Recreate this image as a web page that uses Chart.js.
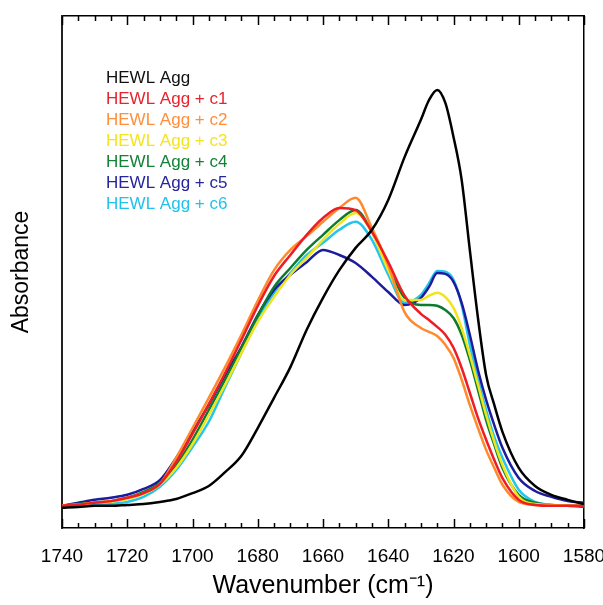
<!DOCTYPE html>
<html>
<head>
<meta charset="utf-8">
<title>HEWL Agg FTIR</title>
<script src="https://cdn.jsdelivr.net/npm/chart.js@4.4.1/dist/chart.umd.min.js"></script>
<style>
  html, body { margin: 0; padding: 0; background: #fff; overflow: hidden; }
</style>
</head>
<body>
<canvas id="ftir" width="603" height="605"></canvas>
<script>
// wavenumber (cm-1) and absorbance (arbitrary units, black peak = 100)
const wavenumber = [1740,1735,1730,1725,1720,1715,1710,1705,1700,1695,1690,1685,1680,1675,1670,1665,1660,1655,1650,1645,1640,1635,1630,1627.5,1625,1622.5,1620,1617.5,1615,1612.5,1610,1607.5,1605,1600,1595,1590,1585,1580];
const hewlAgg = [0.5,0.7,1.0,1.0,1.2,1.4,1.9,2.6,4.0,5.7,9.0,12.9,19.5,26.7,34.0,42.9,50.5,57.1,62.4,66.7,73.8,84.0,92.9,97.6,100,96.9,88.8,78.6,61.9,45.7,32.1,25.0,18.6,10.0,5.7,3.6,2.4,1.4];
const aggC1 = [1.0,1.3,1.7,2.1,2.9,4.0,6.2,11.4,18.1,25.2,32.6,40.5,48.6,55.7,60.7,65.5,69.5,71.9,71.4,66.2,59.0,51.0,46.7,45.2,43.6,41.7,38.6,33.8,27.9,21.9,16.7,11.9,7.6,2.4,1.2,1.0,1.0,1.0];
const aggC2 = [1.0,1.3,1.7,2.1,2.9,4.0,6.2,12.4,19.5,26.7,34.0,41.7,49.8,57.1,61.9,65.2,68.6,71.9,74.3,67.1,58.3,47.1,43.3,42.4,41.4,39.3,36.2,31.0,25.0,19.5,14.3,10.0,6.0,1.9,1.2,1.0,1.0,1.0];
const aggC3 = [1.0,1.3,1.7,2.0,2.6,3.8,6.0,10.0,15.7,22.6,29.8,37.4,44.8,50.7,56.0,60.0,64.3,68.1,70.7,66.0,57.1,50.0,50.0,51.0,51.7,50.7,48.1,43.3,36.9,29.8,22.6,16.2,10.7,3.1,1.4,1.2,1.0,1.0];
const aggC4 = [1.0,1.4,1.8,2.1,2.9,4.3,6.4,10.7,16.7,23.8,31.0,38.6,46.2,53.1,57.6,61.9,65.5,69.0,71.4,66.2,57.6,50.5,48.8,48.8,48.6,47.6,45.7,41.7,35.7,28.6,21.4,15.5,10.0,3.6,1.7,1.2,1.0,0.7];
const aggC5 = [1.0,1.7,2.4,2.9,3.6,5.0,7.1,12.4,18.6,25.0,32.1,38.8,46.4,52.4,56.0,59.0,61.9,60.7,58.8,55.5,51.9,48.8,50.5,53.1,56.4,56.2,54.3,49.3,41.7,33.3,26.2,20.2,14.8,7.6,4.5,3.1,2.1,1.7];
const aggC6 = [1.0,1.2,1.3,1.5,1.9,3.1,5.5,9.5,15.0,21.0,29.3,37.4,45.2,51.7,56.4,60.7,63.6,66.7,68.6,64.3,56.0,49.3,51.2,54.0,56.9,56.7,54.8,48.8,39.3,31.0,23.8,17.4,12.4,4.8,1.9,1.2,1.0,1.0];

const seriesNames = ['HEWL Agg','HEWL Agg + c1','HEWL Agg + c2','HEWL Agg + c3','HEWL Agg + c4','HEWL Agg + c5','HEWL Agg + c6'];
const seriesData = [hewlAgg, aggC1, aggC2, aggC3, aggC4, aggC5, aggC6];
const lineColors = ['#000000','#ee1c25','#ff8a2e','#f2e41c','#0c7c2c','#1c1c9c','#22c6ec'];
const textColors = ['#111111','#e8232b','#ff8f3c','#f3e421','#138237','#25259f','#20c2ea'];
const minorStep = 5;

const FONT = "'Liberation Sans', Arial, sans-serif";

var _datasets = [];
for (let i = 0; i < seriesNames.length; i++) {
  _datasets.push({
    label: seriesNames[i],
    data: wavenumber.map((w, k) => ({x: w, y: seriesData[i][k]})),
    borderColor: lineColors[i],
    backgroundColor: lineColors[i],
    borderWidth: 2.5,
    pointRadius: 0,
    cubicInterpolationMode: 'monotone',
    fill: false,
  });
}

// inward tick marks on top and bottom edges
const innerTicks = {
  id: 'innerTicks',
  afterDraw(chart) {
    const ctx = chart.ctx, xs = chart.scales.x, a = chart.chartArea;
    ctx.save();
    ctx.strokeStyle = '#000';
    ctx.lineWidth = 1.5;
    for (let w = xs.min; w <= xs.max; w += minorStep) {
      const px = Math.round(xs.getPixelForValue(w)) + 0.5;
      const len = (w % 20 === 0) ? 9 : 5;
      ctx.beginPath();
      ctx.moveTo(px, a.bottom); ctx.lineTo(px, a.bottom - len);
      ctx.moveTo(px, a.top); ctx.lineTo(px, a.top + len);
      ctx.stroke();
    }
    ctx.restore();
  }
};

// text-only legend in the upper left of the plot
const textLegend = {
  id: 'textLegend',
  afterDraw(chart) {
    const ctx = chart.ctx, a = chart.chartArea;
    ctx.save();
    ctx.font = '17px ' + FONT;
    ctx.textBaseline = 'middle';
    ctx.textAlign = 'left';
    chart.data.datasets.forEach((ds, i) => {
      ctx.fillStyle = textColors[i];
      ctx.fillText(ds.label, a.left + 44, a.top + 62 + i * 21);
    });
    ctx.restore();
  }
};

// horizontal axes: fixed height, no extra side padding for end labels
const fixHeight = h => s => { s.height = h; s.paddingLeft = 0; s.paddingRight = 0; };

var ctx = document.getElementById('ftir').getContext('2d');
new Chart(ctx, {
  type: 'line',
  data: { datasets: _datasets },
  plugins: [innerTicks, textLegend],
  options: {
    responsive: false,
    animation: false,
    events: [],
    layout: { padding: 0, autoPadding: false },
    plugins: { legend: { display: false }, tooltip: { enabled: false } },
    scales: {
      x: {
        type: 'linear', position: 'bottom', reverse: true,
        min: 1580, max: 1740,
        afterFit: fixHeight(77),
        grid: { display: false },
        border: { display: true, color: '#000', width: 1.5 },
        ticks: { stepSize: 20, color: '#000', padding: 9, maxRotation: 0, autoSkip: false,
                 callback: v => String(v),
                 font: { family: FONT, size: 19 } },
        title: { display: true, text: 'Wavenumber (cm\u207B\u00B9)', color: '#000',
                 padding: { top: 0, bottom: 4 }, font: { family: FONT, size: 25 } }
      },
      xTop: {
        type: 'linear', position: 'top', reverse: true,
        min: 1580, max: 1740,
        afterFit: fixHeight(16),
        grid: { display: false },
        border: { display: true, color: '#000', width: 1.5 },
        ticks: { display: false }
      },
      y: {
        type: 'linear', position: 'left',
        min: -4.3, max: 117.6,
        afterFit: s => { s.width = 62; },
        grid: { display: false },
        border: { display: true, color: '#222', width: 2 },
        ticks: { display: false },
        title: { display: true, text: 'Absorbance', color: '#000',
                 padding: { top: 8, bottom: 0 }, font: { family: FONT, size: 23 } }
      },
      yRight: {
        type: 'linear', position: 'right',
        min: -4.3, max: 117.6,
        afterFit: s => { s.width = 19; },
        grid: { display: false },
        border: { display: true, color: '#000', width: 1.5 },
        ticks: { display: false }
      }
    }
  }
});
</script>
</body>
</html>
